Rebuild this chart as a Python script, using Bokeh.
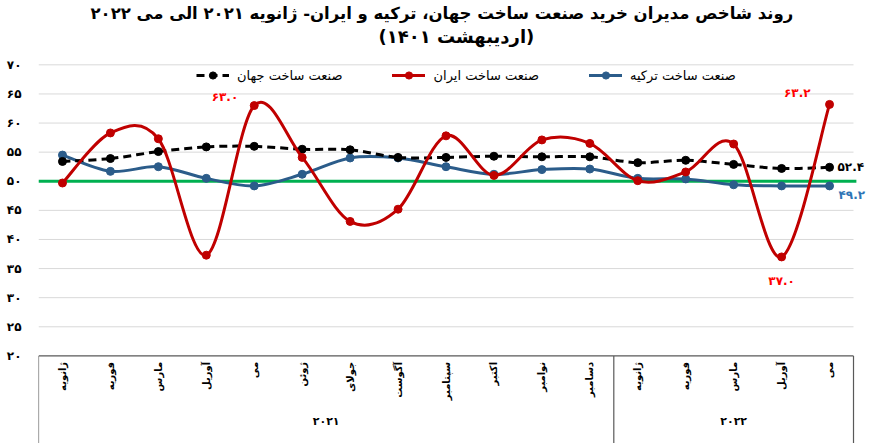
import numpy as np
from bokeh.plotting import figure
from bokeh.models import Range1d, FixedTicker, Legend, LegendItem, Title, ColumnDataSource
from bokeh.core.properties import value
from bokeh.embed import file_html
from bokeh.resources import INLINE

FA = str.maketrans("0123456789", "۰۱۲۳۴۵۶۷۸۹")
def fa(s):
    return str(s).translate(FA)

# ---------------- data ----------------
months_2021 = ["ژانویه", "فوریه", "مارس", "آوریل", "می", "ژوئن", "جولای", "آگوست",
               "سپتامبر", "اکتبر", "نوامبر", "دسامبر"]
months_2022 = ["ژانویه", "فوریه", "مارس", "آوریل", "می"]
years = ["2021", "2022"]

world = [53.4, 53.9, 55.1, 55.9, 56.0, 55.5, 55.4, 54.1, 54.1, 54.3, 54.2, 54.2,
         53.2, 53.6, 52.9, 52.2, 52.4]
iran = [49.7, 58.3, 57.3, 37.3, 63.0, 54.1, 43.1, 45.2, 57.8, 51.0, 57.1, 56.5,
        50.1, 51.6, 56.4, 37.0, 63.2]
turkey = [54.5, 51.7, 52.5, 50.5, 49.2, 51.2, 54.0, 54.0, 52.5, 51.2, 52.0, 52.1,
          50.5, 50.4, 49.4, 49.2, 49.2]
threshold = 50
y_ticks = [20, 25, 30, 35, 40, 45, 50, 55, 60, 65, 70]

title_line1 = "روند شاخص مدیران خرید صنعت ساخت جهان، ترکیه و ایران- ژانویه ۲۰۲۱ الی می ۲۰۲۲"
title_line2 = "(اردیبهشت ۱۴۰۱)"
name_world = "صنعت ساخت جهان"
name_iran = "صنعت ساخت ایران"
name_turkey = "صنعت ساخت ترکیه"

# ---------------- layout ----------------
months = months_2021 + months_2022
n = len(months)
xs = np.arange(n, dtype=float)
FONT = "DejaVu Sans"
Y0, Y1 = 4.95, 73.15
X0, X1 = -0.5, n - 0.5
bounds = [X0, len(months_2021) - 0.5, X1]

p = figure(width=893, height=443, output_backend="svg", toolbar_location=None,
           x_range=Range1d(X0, X1 + 0.563), y_range=Range1d(Y0, Y1),
           x_axis_type=None, min_border_left=38, min_border_right=13,
           min_border_bottom=0, min_border_top=0)
p.outline_line_color = None
p.background_fill_color = "white"
p.ygrid.visible = False

ax = p.yaxis[0]
ax.ticker = FixedTicker(ticks=y_ticks)
ax.major_label_overrides = {t: fa(t) for t in y_ticks}
ax.axis_line_color = None
ax.major_tick_line_color = None
ax.minor_tick_line_color = None
ax.major_label_standoff = 11
ax.major_label_text_font = FONT
ax.major_label_text_font_style = "bold"
ax.major_label_text_font_size = "12px"
ax.major_label_text_color = "#000000"

# titles
t2 = Title(text=title_line2, align="left", text_font=FONT, text_font_style="bold",
           text_font_size="18px", standoff=0, offset=340, text_color="#000000")
p.add_layout(t2, "above")
t1 = Title(text=title_line1, align="left", text_font=FONT, text_font_style="bold",
           text_font_size="16.5px", standoff=2, offset=52, text_color="#000000")
p.add_layout(t1, "above")

# gridlines (limited to the category area)
g = y_ticks[1:]
p.segment(x0=[X0] * len(g), y0=g, x1=[X1] * len(g), y1=g, line_color="#d9d9d9", line_width=1)

# threshold line
p.segment(x0=[X0], y0=[threshold], x1=[X1 + 0.06], y1=[threshold], line_color="#00b050",
          line_width=3)

# axis box
p.segment(x0=[X0], y0=[y_ticks[0]], x1=[X1], y1=[y_ticks[0]], line_color="#595959",
          line_width=1.2)
p.segment(x0=bounds, y0=[y_ticks[0]] * 3, x1=bounds, y1=[Y0] * 3,
          line_color="#595959", line_width=1.2)

# month and year labels
p.text(x=xs, y=[y_ticks[0]] * n, text=months, angle=np.pi / 2, text_align="right",
       text_baseline="middle", y_offset=6, text_font=value(FONT), text_font_style="bold",
       text_font_size="10px", text_color="#000000")
year_x = [(len(months_2021) - 1) / 2, len(months_2021) + (len(months_2022) - 1) / 2]
p.text(x=year_x, y=[y_ticks[0]] * 2, text=[fa(y) for y in years], text_align="center",
       text_baseline="middle", y_offset=66, text_font=value(FONT), text_font_style="bold",
       text_font_size="11px", text_color="#000000")


def bezier_src(x, y, t=1.0 / 6):
    x = np.asarray(x, float)
    y = np.asarray(y, float)
    m = len(x)
    i = np.arange(m - 1)
    im1 = np.clip(i - 1, 0, m - 1)
    ip1 = i + 1
    ip2 = np.clip(i + 2, 0, m - 1)
    return ColumnDataSource(dict(
        x0=x[i], y0=y[i], x1=x[ip1], y1=y[ip1],
        cx0=x[i] + t * (x[ip1] - x[im1]), cy0=y[i] + t * (y[ip1] - y[im1]),
        cx1=x[ip1] - t * (x[ip2] - x[i]), cy1=y[ip1] - t * (y[ip2] - y[i])))


def series(vals, color, dash="solid", mcolor=None, lw=3):
    b = p.bezier(x0="x0", y0="y0", x1="x1", y1="y1", cx0="cx0", cy0="cy0", cx1="cx1",
                 cy1="cy1", source=bezier_src(xs, vals), line_color=color, line_width=lw,
                 line_dash=dash, line_cap="round" if dash == "solid" else "butt")
    s = p.scatter(xs, vals, size=8, marker="circle", fill_color=mcolor or color,
                  line_color=mcolor or color)
    return b, s


RED, BLUE, BLACK = "#c00000", "#2b5c8a", "#000000"
bt, st = series(turkey, BLUE)
bw, sw = series(world, BLACK, dash="8 5")
bi, si = series(iran, RED)

legend = Legend(items=[LegendItem(label=name_world, renderers=[bw, sw]),
                       LegendItem(label=name_iran, renderers=[bi, si]),
                       LegendItem(label=name_turkey, renderers=[bt, st])],
                orientation="horizontal", location=(158, 359), glyph_width=33,
                glyph_height=18, label_standoff=8, spacing=50, padding=0, margin=0,
                label_text_font=FONT, label_text_font_size="13px",
                label_text_color="#000000", background_fill_alpha=0,
                border_line_color=None)
p.add_layout(legend)

# value labels
def lbl(idx, vals, color, align, dx, dy):
    p.text(x=[xs[idx]], y=[vals[idx]], text=[fa(f"{vals[idx]:.1f}")], text_align=align,
           text_baseline="middle", x_offset=dx, y_offset=dy, text_font=value(FONT),
           text_font_style="bold", text_font_size="12px", text_color=color)

lbl(4, iran, "#ff0000", "right", -16, -9)
lbl(16, iran, "#ff0000", "right", -19, -11)
lbl(15, iran, "#ff0000", "center", 0, 24)
lbl(16, world, "#000000", "left", 8, 0)
lbl(16, turkey, "#2e75b6", "left", 9, 9)

open("out.html", "w").write(file_html(p, INLINE))
